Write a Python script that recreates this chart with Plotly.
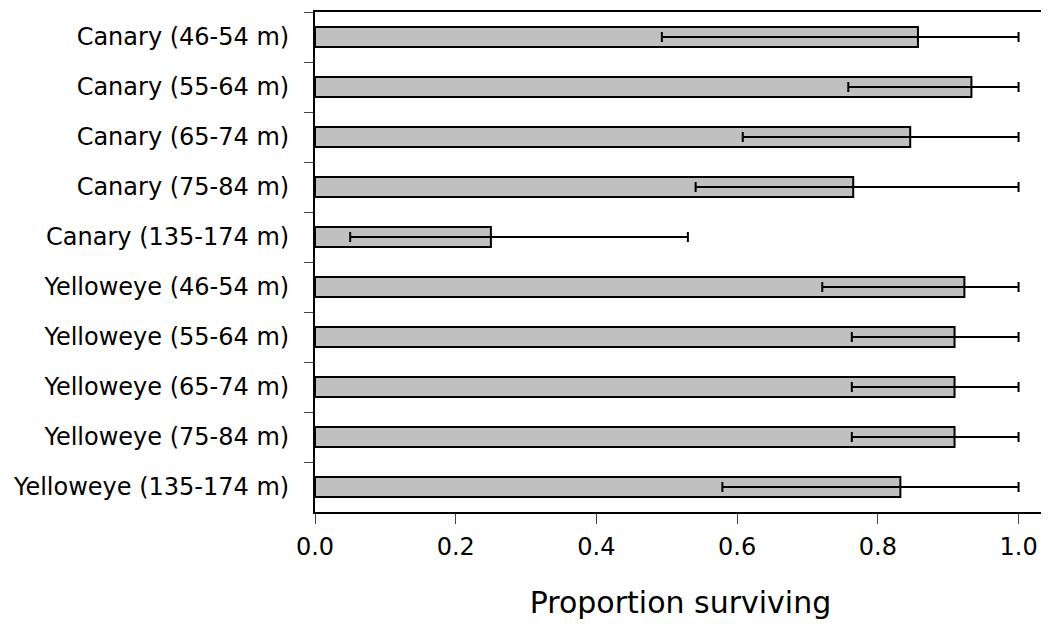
import plotly.graph_objects as go

categories = [
    "Canary (46-54 m)", "Canary (55-64 m)", "Canary (65-74 m)", "Canary (75-84 m)",
    "Canary (135-174 m)", "Yelloweye (46-54 m)", "Yelloweye (55-64 m)",
    "Yelloweye (65-74 m)", "Yelloweye (75-84 m)", "Yelloweye (135-174 m)",
]
survival = [0.857, 0.933, 0.846, 0.765, 0.250, 0.923, 0.909, 0.909, 0.909, 0.832]
ci_low = [0.493, 0.758, 0.608, 0.541, 0.050, 0.721, 0.763, 0.763, 0.763, 0.579]
ci_high = [1.0, 1.0, 1.0, 1.0, 0.530, 1.0, 1.0, 1.0, 1.0, 1.0]
x_ticks = [0.0, 0.2, 0.4, 0.6, 0.8, 1.0]
x_tick_labels = ["0.0", "0.2", "0.4", "0.6", "0.8", "1.0"]

err_plus = [h - v for h, v in zip(ci_high, survival)]
err_minus = [v - l for v, l in zip(survival, ci_low)]

FONT = "DejaVu Sans"

fig = go.Figure(go.Bar(
    y=categories, x=survival, orientation="h",
    marker=dict(color="#C0C0C0", line=dict(color="black", width=2)),
    error_x=dict(type="data", symmetric=False, array=err_plus, arrayminus=err_minus,
                 color="black", thickness=2, width=5),
))

# page body has an 8px default margin, so the figure is sized to fit the window
fig.update_layout(
    width=1041, height=619,
    margin=dict(l=307, r=3, t=4, b=115),
    plot_bgcolor="white", paper_bgcolor="white",
    bargap=0.6, showlegend=False,
    font=dict(family=FONT, color="black", size=24),
)
fig.update_xaxes(
    range=[0, 1.039], tickvals=x_ticks, ticktext=x_tick_labels,
    showline=True, linecolor="black", linewidth=2, mirror=True,
    ticks="outside", ticklen=10, tickwidth=1, tickcolor="#444",
    showgrid=False, zeroline=False,
    tickfont=dict(size=24, family=FONT), ticklabelstandoff=2,
    title=dict(text="Proportion surviving", font=dict(size=30, family=FONT), standoff=32),
)
fig.update_yaxes(
    categoryorder="array", categoryarray=categories, autorange="reversed",
    showline=True, linecolor="black", linewidth=2,
    ticks="outside", ticklen=9, tickwidth=1, tickcolor="#444", tickson="boundaries",
    showgrid=False, zeroline=False,
    tickfont=dict(size=24, family=FONT), ticklabelstandoff=19,
)

fig.write_html("out.html")
